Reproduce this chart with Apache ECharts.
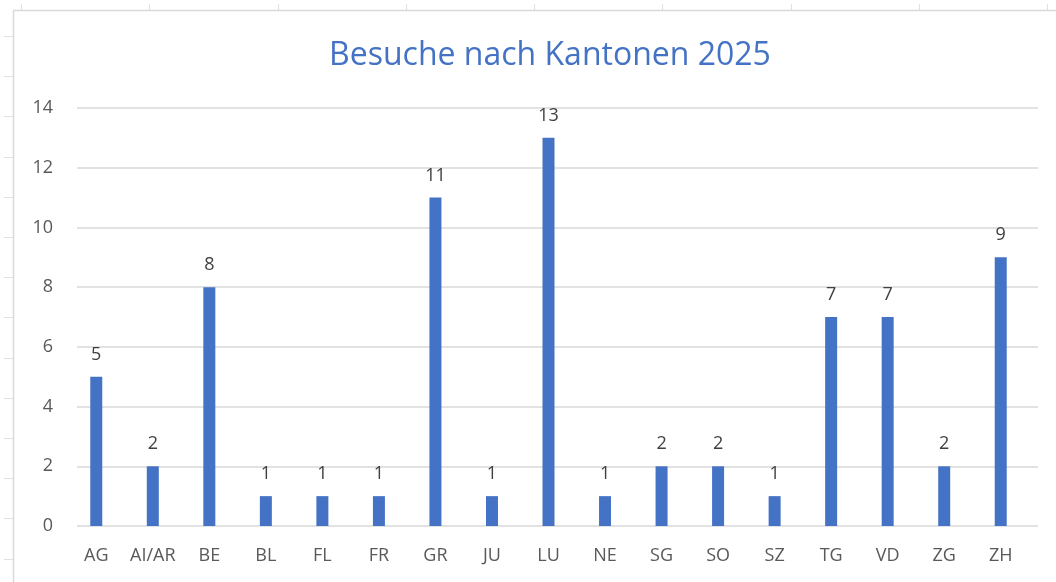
<!DOCTYPE html>
<html>
<head>
<meta charset="utf-8">
<script src="https://cdn.jsdelivr.net/npm/echarts@6/dist/echarts.min.js"></script>
<style>
    html, body { margin: 0; padding: 0; background: #ffffff; }
    #chart { width: 1056px; height: 582px; }
</style>
</head>
<body>
<div id="chart"></div>
<script>
// data
var kantone = ['AG', 'AI/AR', 'BE', 'BL', 'FL', 'FR', 'GR', 'JU', 'LU', 'NE', 'SG', 'SO', 'SZ', 'TG', 'VD', 'ZG', 'ZH'];
var besuche = [5, 2, 8, 1, 1, 1, 11, 1, 13, 1, 2, 2, 1, 7, 7, 2, 9];
var yMax = 14;
var yStep = 2;

var font = '"Open Sans", "Noto Sans", sans-serif';

/**
 * spreadsheet grid marks around the chart frame
 */
var deco = [];
deco.push({ type: 'line', shape: { x1: 13.5, y1: 10.5, x2: 1056, y2: 10.5 }, style: { stroke: '#d9d9d9', lineWidth: 1.5 } });
deco.push({ type: 'line', shape: { x1: 13.5, y1: 10.5, x2: 13.5, y2: 582 }, style: { stroke: '#d9d9d9', lineWidth: 1.5 } });
for (var i = 0; i < 9; i++) {
    var x = Math.round(21 + i * 128.25) + 0.5;
    deco.push({ type: 'line', shape: { x1: x, y1: 4, x2: x, y2: 10 }, style: { stroke: '#e0e0e0', lineWidth: 1 } });
}
for (var j = 0; j < 14; j++) {
    var y = Math.round(36 + j * 40.2) + 0.5;
    deco.push({ type: 'line', shape: { x1: 4, y1: y, x2: 13, y2: y }, style: { stroke: '#e0e0e0', lineWidth: 1 } });
}

var chart = echarts.init(document.getElementById('chart'));
var option = {
    backgroundColor: '#ffffff',
    animation: false,
    title: {
        text: 'Besuche nach Kantonen 2025',
        left: 545,
        textAlign: 'center',
        top: 35,
        textStyle: {
            color: '#4472c4',
            fontFamily: font,
            fontSize: 32,
            fontWeight: 'normal'
        }
    },
    graphic: deco,
    grid: [
        { left: 77, right: 18, top: 108, bottom: 56 },
        { left: 68, right: 27, top: 108, bottom: 56 }
    ],
    xAxis: [
        { gridIndex: 0, type: 'category', data: kantone, show: false },
        {
            gridIndex: 1,
            type: 'category',
            data: kantone,
            axisLine: { show: false },
            axisTick: { show: false },
            axisLabel: {
                interval: 0,
                hideOverlap: false,
                color: '#595959',
                fontFamily: font,
                fontSize: 18,
                margin: 21
            }
        }
    ],
    yAxis: [
        {
            gridIndex: 0,
            type: 'value',
            min: 0,
            max: yMax,
            interval: yStep,
            axisLine: { show: false },
            axisTick: { show: false },
            splitLine: { lineStyle: { color: '#d9d9d9', width: 1.5 } },
            axisLabel: {
                color: '#595959',
                fontFamily: font,
                fontSize: 18,
                margin: 24
            }
        },
        {
            gridIndex: 1,
            type: 'value',
            min: 0,
            max: yMax,
            interval: yStep,
            show: false
        }
    ],
    series: [
        {
            name: 'Besuche',
            type: 'bar',
            xAxisIndex: 1,
            yAxisIndex: 1,
            data: besuche,
            barWidth: 12,
            itemStyle: { color: '#4472c4' },
            label: {
                show: true,
                position: 'top',
                distance: 13,
                color: '#404040',
                fontFamily: font,
                fontSize: 18
            }
        }
    ]
};
chart.setOption(option);
</script>
</body>
</html>
